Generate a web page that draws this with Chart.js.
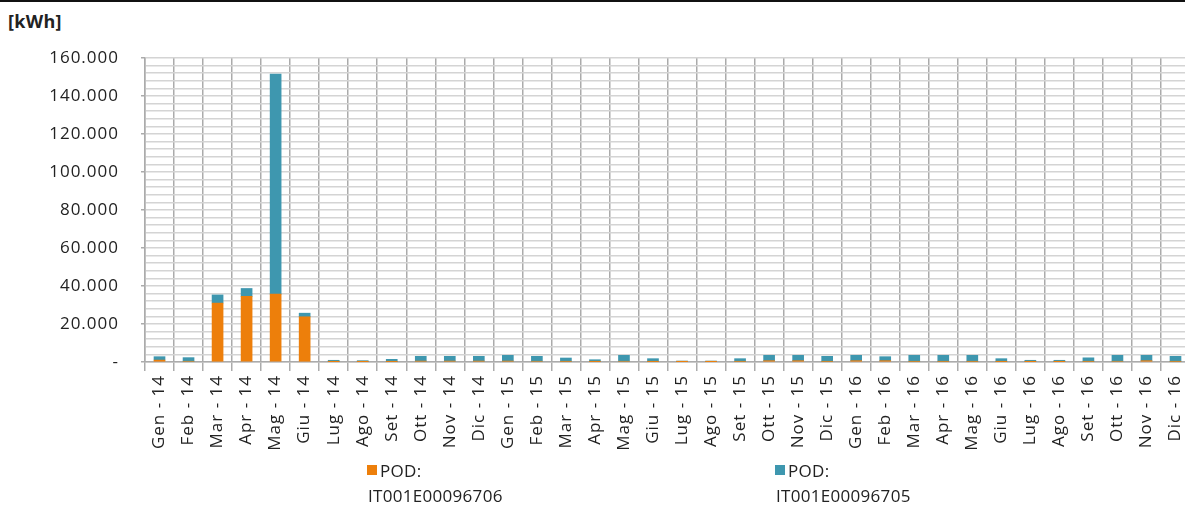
<!DOCTYPE html>
<html>
<head>
<meta charset="utf-8">
<script src="https://cdn.jsdelivr.net/npm/chart.js@4/dist/chart.umd.min.js"></script>
<style>
    html, body { margin: 0; padding: 0; background: #fff; overflow: hidden; }
    body { width: 1185px; height: 506px; position: relative; font-family: "Open Sans", sans-serif; color: #222; }
    .topline { position: absolute; left: 0; top: 0; width: 1185px; height: 2px; background: #111; }
    .unit { position: absolute; left: 8px; top: 9px; font-size: 18px; font-weight: bold; letter-spacing: 0.3px; }
    #wrap { position: absolute; left: 0; top: 0; }
    .legend-item { position: absolute; top: 458px; font-size: 17px; line-height: 25px; letter-spacing: 0.3px; }
    .legend-item .box { position: absolute; left: -13px; top: 7px; width: 10px; height: 10px; }
</style>
</head>
<body>
<div class="topline"></div>
<div class="unit">[kWh]</div>
<div id="wrap"><canvas id="chart" width="1200" height="460"></canvas></div>
<div id="legend"></div>
<script>
// categories (mese - anno)
const labels = [
    'Gen - 14', 'Feb - 14', 'Mar - 14', 'Apr - 14', 'Mag - 14', 'Giu - 14',
    'Lug - 14', 'Ago - 14', 'Set - 14', 'Ott - 14', 'Nov - 14', 'Dic - 14',
    'Gen - 15', 'Feb - 15', 'Mar - 15', 'Apr - 15', 'Mag - 15', 'Giu - 15',
    'Lug - 15', 'Ago - 15', 'Set - 15', 'Ott - 15', 'Nov - 15', 'Dic - 15',
    'Gen - 16', 'Feb - 16', 'Mar - 16', 'Apr - 16', 'Mag - 16', 'Giu - 16',
    'Lug - 16', 'Ago - 16', 'Set - 16', 'Ott - 16', 'Nov - 16', 'Dic - 16'
];

const seriesNames = ['POD: IT001E00096706', 'POD: IT001E00096705'];

// kWh per month
const pod706 = [
    1000, 400, 31000, 34500, 35700, 23800, 100, 100, 200, 500, 500, 500,
    500, 400, 300, 200, 400, 200, 100, 100, 300, 700, 700, 300,
    700, 700, 300, 300, 300, 200, 100, 100, 300, 400, 700, 300
];
const pod705 = [
    1800, 1900, 4300, 4200, 115900, 1900, 800, 600, 1200, 2500, 2500, 2500,
    3000, 2600, 1800, 1000, 3100, 1550, 400, 400, 1450, 2800, 2800, 2700,
    2800, 2100, 3200, 3200, 3200, 1550, 800, 800, 1900, 3100, 2800, 2700
];

const colors = ['#ED7F0B', '#3E97AF'];

function fmt(v) {
    if (v === 0) return '-';
    return String(v).replace(/\B(?=(\d{3})+(?!\d))/g, '.');
}

// the original labels are a bit more spread out than Open Sans
const spacing = {
    id: 'spacing',
    beforeDraw(chart) {
        chart.ctx.letterSpacing = '1px';
    }
};

const chart = new Chart(document.getElementById('chart'), {
    type: 'bar',
    data: {
        labels: labels,
        datasets: [{
            label: seriesNames[0],
            data: pod706,
            backgroundColor: colors[0],
            barThickness: 11
        }, {
            label: seriesNames[1],
            data: pod705,
            backgroundColor: colors[1],
            barThickness: 11
        }]
    },
    options: {
        responsive: false,
        animation: false,
        layout: {
            padding: { top: 58, right: 7, bottom: 0, left: 0 }
        },
        plugins: {
            legend: { display: false },
            tooltip: { enabled: false }
        },
        scales: {
            x: {
                stacked: true,
                afterFit: (scale) => { scale.height = 98; },
                grid: {
                    color: '#ababab',
                    lineWidth: 1.5,
                    tickLength: 9,
                    offset: true
                },
                border: { color: '#ababab', width: 1.5 },
                ticks: {
                    minRotation: 90,
                    maxRotation: 90,
                    autoSkip: false,
                    padding: 4,
                    color: '#222',
                    font: { family: 'Open Sans', size: 17 }
                }
            },
            y: {
                stacked: true,
                min: 0,
                max: 160000,
                afterFit: (scale) => { scale.width = 145; },
                grid: {
                    color: '#d4d4d4',
                    lineWidth: 1.5,
                    tickLength: 4,
                    tickColor: (ctx) => (ctx.tick && ctx.tick.value % 20000 === 0) ? '#ababab' : 'rgba(0,0,0,0)'
                },
                border: { color: '#ababab', width: 1.5 },
                ticks: {
                    stepSize: 4000,
                    autoSkip: false,
                    padding: 22,
                    color: '#222',
                    font: { family: 'Open Sans', size: 17 },
                    callback: (v) => (v % 20000 === 0) ? fmt(v) : ''
                }
            }
        }
    },
    plugins: [spacing]
});

// legend, two lines per item like the original
const legendX = [380, 788];
const legend = document.getElementById('legend');
seriesNames.forEach((name, i) => {
    const parts = name.split(' ');
    const item = document.createElement('div');
    item.className = 'legend-item';
    item.style.left = legendX[i] + 'px';
    item.innerHTML = '<span class="box" style="background:' + colors[i] + '"></span>' +
        parts[0] + '<br><span style="margin-left:-12px">' + parts[1] + '</span>';
    legend.appendChild(item);
});
</script>
</body>
</html>
